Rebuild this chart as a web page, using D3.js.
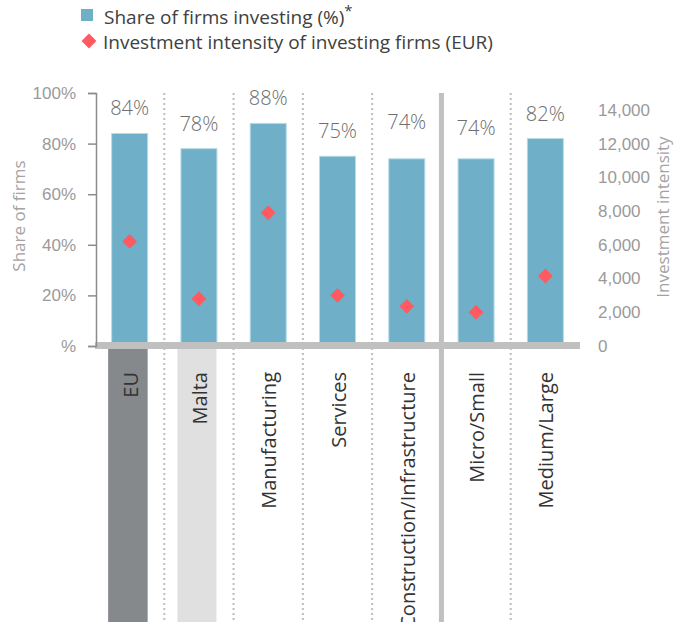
<!DOCTYPE html>
<html>
<head>
<meta charset="utf-8">
<script src="https://cdn.jsdelivr.net/npm/d3@7"></script>
<style>
  body { margin: 0; background: #fff; }
  svg { font-family: 'Open Sans', 'Noto Sans', sans-serif; }
</style>
</head>
<body>
<svg id="chart" width="682" height="622"></svg>
<script>
// data
const categories = ['EU', 'Malta', 'Manufacturing', 'Services', 'Construction/Infrastructure', 'Micro/Small', 'Medium/Large']
const shareInvesting = [84, 78, 88, 75, 74, 74, 82]
const investIntensity = [6200, 2800, 7900, 3000, 2350, 2000, 4150]
const shareTicks = [0, 20, 40, 60, 80, 100]
const intensityTicks = [0, 2000, 4000, 6000, 8000, 10000, 12000, 14000]

// small extra lift of a few value labels, as in the original
const labelLift = [0, 0, 0, 0, 12, 6, 0]

const svg = d3.select('#chart')

const x = d3.scaleBand()
  .domain(categories)
  .range([95, 580])
  .paddingInner(0.48)
  .paddingOuter(0.24)

const y = d3.scaleLinear().domain([0, 100]).range([346, 93])
const y2 = d3.scaleLinear().domain([0, 15000]).range([346, 93])

const bw = x.bandwidth()
const step = x.step()

// highlighted label columns under the baseline
svg.append('rect')
  .attr('x', x('EU') - 3.5).attr('y', 349)
  .attr('width', bw + 3.5).attr('height', 273)
  .attr('fill', '#86898c')
svg.append('rect')
  .attr('x', x('Malta') - 3.5).attr('y', 349)
  .attr('width', bw + 3).attr('height', 273)
  .attr('fill', '#e0e0e0')

// separators between groups
categories.slice(1).forEach(function (c, i) {
  const sx = x(c) - (step - bw) / 2
  const solid = c === 'Micro/Small'
  svg.append('line')
    .attr('x1', sx).attr('x2', sx)
    .attr('y1', 93).attr('y2', 622)
    .attr('stroke', solid ? '#c0c0c0' : '#bdbdbd')
    .attr('stroke-width', solid ? 5 : 2)
    .attr('stroke-dasharray', solid ? null : '2,3')
})

// bars
svg.append('g').selectAll('rect')
  .data(categories)
  .enter()
  .append('rect')
  .attr('x', function (d) { return x(d) })
  .attr('y', function (d, i) { return y(shareInvesting[i]) })
  .attr('width', bw)
  .attr('height', function (d, i) { return y(0) - y(shareInvesting[i]) })
  .attr('fill', '#6fb0c8')
  .attr('stroke', '#b9dbe7')
  .attr('stroke-width', 1)

// value labels
svg.append('g').selectAll('text')
  .data(categories)
  .enter()
  .append('text')
  .attr('x', function (d) { return x(d) + bw / 2 })
  .attr('y', function (d, i) { return y(shareInvesting[i]) - 18 - labelLift[i] })
  .attr('text-anchor', 'middle')
  .attr('font-size', 20)
  .attr('font-weight', 300)
  .attr('fill', '#6e6e6e')
  .text(function (d, i) { return shareInvesting[i] + '%' })

// baseline
svg.append('rect')
  .attr('x', 95).attr('y', 342)
  .attr('width', 485).attr('height', 7)
  .attr('fill', '#c0c0c0')

// diamonds
const diamond = d3.symbol().type(d3.symbolSquare).size(110)
svg.append('g').selectAll('path')
  .data(categories)
  .enter()
  .append('path')
  .attr('d', diamond)
  .attr('transform', function (d, i) {
    return 'translate(' + (x(d) + bw / 2) + ',' + y2(investIntensity[i]) + ') rotate(45)'
  })
  .attr('fill', '#ff5a5f')

// left axis
const leftAxis = svg.append('g')
  .attr('transform', 'translate(96,0)')
  .call(d3.axisLeft(y).tickValues(shareTicks).tickSize(8).tickPadding(12)
    .tickFormat(function (d) { return d === 0 ? '%' : d + '%' }))
leftAxis.selectAll('path, line').attr('stroke', '#8c8c8c').attr('stroke-width', 1.5)
leftAxis.selectAll('text').attr('font-size', 17).attr('fill', '#9a9a9a').attr('font-family', null)

// right axis
const rightAxis = svg.append('g')
  .attr('transform', 'translate(590,0)')
  .call(d3.axisRight(y2).tickValues(intensityTicks).tickSize(0).tickPadding(8)
    .tickFormat(d3.format(',')))
rightAxis.select('.domain').remove()
rightAxis.selectAll('text').attr('font-size', 17).attr('fill', '#9a9a9a').attr('font-family', null)

// axis titles
svg.append('text')
  .attr('transform', 'translate(25,216) rotate(-90)')
  .attr('text-anchor', 'middle')
  .attr('font-size', 17)
  .attr('fill', '#a3a3a3')
  .text('Share of firms')
svg.append('text')
  .attr('transform', 'translate(669,217) rotate(-90)')
  .attr('text-anchor', 'middle')
  .attr('font-size', 17)
  .attr('fill', '#a3a3a3')
  .text('Investment intensity')

// category labels
svg.append('g').selectAll('text')
  .data(categories)
  .enter()
  .append('text')
  .attr('transform', function (d) {
    return 'translate(' + (x(d) + bw / 2 + 8) + ',372) rotate(-90)'
  })
  .attr('text-anchor', 'end')
  .attr('font-size', 20)
  .attr('fill', '#333')
  .text(function (d) { return d })

// legend
const legend = svg.append('g')
legend.append('rect')
  .attr('x', 81).attr('y', 9).attr('width', 12).attr('height', 12)
  .attr('fill', '#6fb0c8')
const l1 = legend.append('text')
  .attr('x', 104).attr('y', 24)
  .attr('font-size', 19)
  .attr('fill', '#404040')
l1.append('tspan').text('Share of firms investing (%)')
l1.append('tspan').attr('dy', -8).attr('font-size', 15).text('*')
legend.append('path')
  .attr('d', diamond)
  .attr('transform', 'translate(89,41) rotate(45)')
  .attr('fill', '#ff5a5f')
legend.append('text')
  .attr('x', 103).attr('y', 49)
  .attr('font-size', 19)
  .attr('fill', '#404040')
  .text('Investment intensity of investing firms (EUR)')
</script>
</body>
</html>
